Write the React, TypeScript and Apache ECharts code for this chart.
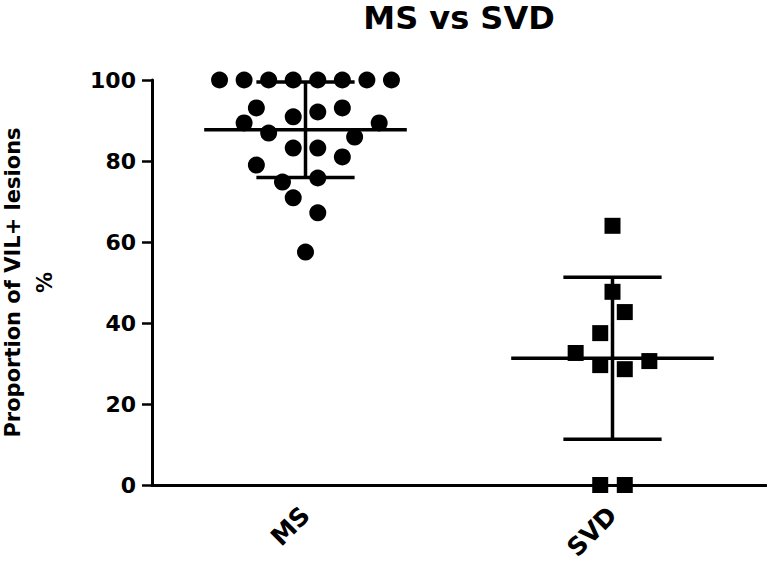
import React, { useEffect, useRef } from "react";
import * as echarts from "echarts";

// Categories and tick labels
const categories = ["MS", "SVD"];
const yTicks = [0, 20, 40, 60, 80, 100];

// MS group: values (%) and horizontal scatter offsets (in category units)
const msValues = [
  100, 100, 100, 100, 100, 100, 100, 100,
  93.1, 90.9, 92.1, 93.1, 89.4, 86.9, 89.4, 85.9,
  83.2, 83.2, 81, 79, 74.8, 75.8, 70.9, 67.2, 57.5,
];
const msOffsets = [
  -0.28, -0.2, -0.12, -0.04, 0.04, 0.12, 0.2, 0.28,
  -0.16, -0.04, 0.04, 0.12, -0.2, -0.12, 0.24, 0.16,
  -0.04, 0.04, 0.12, -0.16, -0.075, 0.04, -0.04, 0.04, 0.0,
];

// SVD group
const svdValues = [64, 47.7, 42.7, 37.5, 32.6, 29.6, 28.6, 30.6, 0, 0];
const svdOffsets = [0, 0, 0.04, -0.04, -0.12, -0.04, 0.04, 0.12, -0.04, 0.04];

// Summary statistics (mean ± SD)
const groupMeans = [87.7, 31.3];
const groupSDs = [11.8, 20.0];

const FONT = "DejaVu Sans";

export default function App() {
  const ref = useRef<HTMLDivElement>(null);

  useEffect(() => {
    if (!ref.current) return;
    const chart = echarts.init(ref.current, null, { renderer: "svg" });

    const msData = msValues.map((v, i) => [1 + msOffsets[i], v]);
    const svdData = svdValues.map((v, i) => [2 + svdOffsets[i], v]);
    const statData = groupMeans.map((m, i) => [i + 1, m, groupSDs[i]]);

    chart.setOption({
      animation: false,
      backgroundColor: "#ffffff",
      title: {
        text: "MS vs SVD",
        left: 459,
        top: 1,
        padding: 0,
        textAlign: "center",
        textStyle: {
          fontFamily: FONT,
          fontWeight: "bold",
          fontSize: 32,
          lineHeight: 34,
          color: "#000",
        },
      },
      grid: {
        left: 152,
        right: 1,
        top: 80,
        bottom: 76,
        outerBoundsMode: "none",
        containLabel: false,
      },
      xAxis: [
        {
          type: "category",
          data: categories,
          boundaryGap: true,
          axisLine: { lineStyle: { color: "#000", width: 3 } },
          axisTick: {
            alignWithLabel: true,
            length: 10,
            lineStyle: { color: "#000", width: 2.5 },
          },
          axisLabel: {
            rotate: 45,
            margin: 26,
            color: "#000",
            fontFamily: FONT,
            fontWeight: "bold",
            fontSize: 25,
            lineHeight: 18,
          },
          splitLine: { show: false },
        },
        {
          type: "value",
          show: false,
          min: 0.5,
          max: 2.5,
          position: "bottom",
          splitLine: { show: false },
        },
      ],
      yAxis: {
        type: "value",
        min: 0,
        max: 100,
        interval: 20,
        name: "Proportion of VIL+ lesions\n%",
        nameLocation: "middle",
        nameRotate: 90,
        nameGap: 91,
        nameTextStyle: {
          fontFamily: FONT,
          fontWeight: "bold",
          fontSize: 21,
          lineHeight: 32,
          color: "#000",
        },
        axisLine: { show: true, lineStyle: { color: "#000", width: 3 } },
        axisTick: {
          show: true,
          length: 10,
          lineStyle: { color: "#000", width: 2.5 },
        },
        axisLabel: {
          margin: 16,
          color: "#000",
          fontFamily: FONT,
          fontWeight: "bold",
          fontSize: 22,
          formatter: (v: number) => (yTicks.includes(v) ? String(v) : ""),
        },
        splitLine: { show: false },
      },
      series: [
        {
          type: "custom",
          xAxisIndex: 1,
          yAxisIndex: 0,
          data: statData,
          clip: false,
          z: 3,
          renderItem: (params: any, api: any) => {
            const x = api.value(0);
            const m = api.value(1);
            const s = api.value(2);
            const meanHalf = 0.33;
            const capHalf = 0.16;
            const ml = api.coord([x - meanHalf, m]);
            const mr = api.coord([x + meanHalf, m]);
            const top = api.coord([x, m + s]);
            const bot = api.coord([x, m - s]);
            const tl = api.coord([x - capHalf, m + s]);
            const tr = api.coord([x + capHalf, m + s]);
            const bl = api.coord([x - capHalf, m - s]);
            const br = api.coord([x + capHalf, m - s]);
            const st = { stroke: "#000", lineWidth: 3.5 };
            return {
              type: "group",
              children: [
                { type: "line", shape: { x1: ml[0], y1: ml[1], x2: mr[0], y2: mr[1] }, style: st },
                { type: "line", shape: { x1: top[0], y1: top[1], x2: bot[0], y2: bot[1] }, style: st },
                { type: "line", shape: { x1: tl[0], y1: tl[1], x2: tr[0], y2: tr[1] }, style: st },
                { type: "line", shape: { x1: bl[0], y1: bl[1], x2: br[0], y2: br[1] }, style: st },
              ],
            };
          },
        },
        {
          name: "MS",
          type: "scatter",
          xAxisIndex: 1,
          yAxisIndex: 0,
          data: msData,
          symbol: "circle",
          symbolSize: 17,
          clip: false,
          itemStyle: { color: "#000", opacity: 1 },
          z: 4,
        },
        {
          name: "SVD",
          type: "scatter",
          xAxisIndex: 1,
          yAxisIndex: 0,
          data: svdData,
          symbol: "rect",
          symbolSize: 16,
          clip: false,
          itemStyle: { color: "#000", opacity: 1 },
          z: 4,
        },
      ],
    });

    return () => chart.dispose();
  }, []);

  return (
    <div
      ref={ref}
      style={{ position: "fixed", left: 0, top: 0, width: 767, height: 561, background: "#fff" }}
    />
  );
}
